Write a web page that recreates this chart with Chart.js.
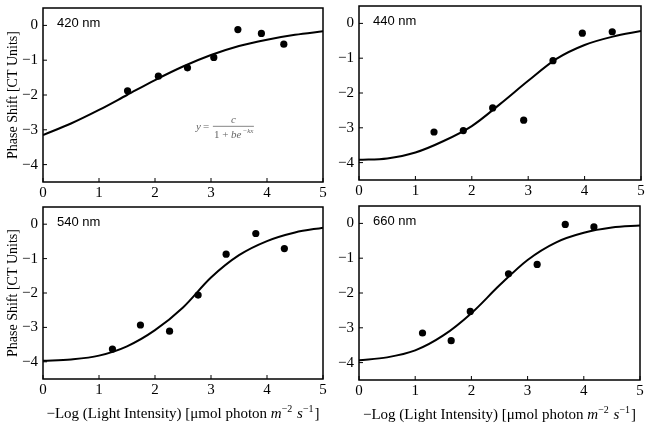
<!DOCTYPE html>
<html><head><meta charset="utf-8">
<script src="https://cdn.jsdelivr.net/npm/chart.js@4"></script>
<style>
html,body{margin:0;padding:0;background:#fff;}
#wrap{position:relative;width:649px;height:425px;overflow:hidden;background:#fff;}
canvas{position:absolute;}
</style></head><body><div id="wrap">
<canvas id="c1" width="335" height="205" style="left:0px;top:0px"></canvas>
<canvas id="c2" width="324" height="205" style="left:325px;top:0px"></canvas>
<canvas id="c3" width="335" height="225" style="left:0px;top:200px"></canvas>
<canvas id="c4" width="324" height="225" style="left:325px;top:200px"></canvas>
</div>
<script>
// ---- data ----
const xTicks = [0, 1, 2, 3, 4, 5];
const yTicks = [-4, -3, -2, -1, 0];
const curveX = [0, 0.5, 1, 1.5, 2, 2.5, 3, 3.5, 4, 4.5, 5];
const panelLabels = ['420 nm', '440 nm', '540 nm', '660 nm'];
const yTitle = 'Phase Shift [CT Units]';

const x420 = [1.51, 2.06, 2.58, 3.05, 3.48, 3.90, 4.30];
const y420 = [-1.88, -1.46, -1.22, -0.92, -0.12, -0.23, -0.54];
const fit420 = [-3.15, -2.82, -2.43, -2.00, -1.57, -1.18, -0.85, -0.59, -0.41, -0.27, -0.17];

const x440 = [1.33, 1.85, 2.37, 2.92, 3.44, 3.96, 4.49];
const y440 = [-3.12, -3.08, -2.43, -2.78, -1.07, -0.28, -0.24];
const fit440 = [-3.92, -3.88, -3.71, -3.38, -2.95, -2.32, -1.65, -1.02, -0.62, -0.38, -0.22];

const x540 = [1.24, 1.74, 2.26, 2.77, 3.27, 3.80, 4.31];
const y540 = [-3.63, -2.93, -3.11, -2.06, -0.87, -0.27, -0.71];
const fit540 = [-3.97, -3.93, -3.82, -3.55, -3.08, -2.42, -1.55, -0.90, -0.49, -0.24, -0.10];

const x660 = [1.13, 1.64, 1.98, 2.66, 3.17, 3.67, 4.18];
const y660 = [-3.15, -3.37, -2.53, -1.45, -1.18, -0.03, -0.10];
const fit660 = [-3.93, -3.85, -3.65, -3.22, -2.58, -1.78, -1.05, -0.55, -0.27, -0.12, -0.06];

const SERIF = '"Liberation Serif", "Times New Roman", serif';
const SANS = '"Liberation Sans", Arial, sans-serif';

function pts(xs, ys) { return xs.map((x, i) => ({x: x, y: ys[i]})); }

const panelPlugin = {
  id: 'panelDeco',
  afterDraw(chart, args, opts) {
    const ctx = chart.ctx;
    const a = chart.chartArea;
    const xs = chart.scales.x, ys = chart.scales.y;
    ctx.save();
    // frame
    ctx.strokeStyle = '#000';
    ctx.lineWidth = 1.5;
    ctx.strokeRect(a.left, a.top, a.right - a.left, a.bottom - a.top);
    // inward ticks
    ctx.lineWidth = 1;
    ctx.beginPath();
    xTicks.forEach(v => {
      const p = xs.getPixelForValue(v);
      ctx.moveTo(p, a.bottom); ctx.lineTo(p, a.bottom - 4);
    });
    yTicks.forEach(v => {
      const p = ys.getPixelForValue(v);
      ctx.moveTo(a.left, p); ctx.lineTo(a.left + 4, p);
    });
    ctx.stroke();
    // panel label
    ctx.fillStyle = '#000';
    ctx.font = '13px ' + SANS;
    ctx.textBaseline = 'middle';
    ctx.textAlign = 'left';
    ctx.fillText(opts.label, a.left + 14, a.top + 15);
    // equation
    if (opts.equation) {
      ctx.fillStyle = '#666';
      ctx.strokeStyle = '#666';
      ctx.textBaseline = 'alphabetic';
      const ex = xs.getPixelForValue(2.73);
      const ey = ys.getPixelForValue(-2.9);
      ctx.font = 'italic 11px ' + SERIF;
      ctx.fillText('y', ex, ey + 4);
      ctx.font = '11px ' + SERIF;
      ctx.fillText('=', ex + 7, ey + 4);
      const fl = ex + 17, fr = ex + 58;
      ctx.lineWidth = 0.8;
      ctx.beginPath(); ctx.moveTo(fl, ey); ctx.lineTo(fr, ey); ctx.stroke();
      ctx.font = 'italic 11px ' + SERIF;
      ctx.textAlign = 'center';
      ctx.fillText('c', (fl + fr) / 2, ey - 3);
      ctx.textAlign = 'left';
      ctx.font = '11px ' + SERIF;
      let dx = fl + 1;
      ctx.fillText('1 + ', dx, ey + 12); dx += ctx.measureText('1 + ').width;
      ctx.font = 'italic 11px ' + SERIF;
      ctx.fillText('be', dx, ey + 12); dx += ctx.measureText('be').width;
      ctx.font = 'italic 7px ' + SERIF;
      ctx.fillText('\u2212kx', dx + 1, ey + 7);
    }
    // x title
    if (opts.xtitle) {
      const pieces = [
        {t: '\u2212Log (Light Intensity) [\u03bcmol photon ', f: '15px ' + SERIF, dy: 0},
        {t: 'm', f: 'italic 15px ' + SERIF, dy: 0},
        {t: '\u22122', f: '10px ' + SERIF, dy: -6},
        {t: ' ', f: '15px ' + SERIF, dy: 0},
        {t: 's', f: 'italic 15px ' + SERIF, dy: 0},
        {t: '\u22121', f: '10px ' + SERIF, dy: -6},
        {t: ']', f: '15px ' + SERIF, dy: 0}
      ];
      let total = 0;
      pieces.forEach(p => { ctx.font = p.f; p.w = ctx.measureText(p.t).width + (p.dy ? 1 : 0); total += p.w; });
      let x = (a.left + a.right) / 2 - total / 2;
      const base = a.bottom + 39;
      ctx.fillStyle = '#000';
      ctx.textBaseline = 'alphabetic';
      ctx.textAlign = 'left';
      pieces.forEach(p => { ctx.font = p.f; ctx.fillText(p.t, x, base + p.dy); x += p.w; });
    }
    ctx.restore();
  }
};

function makeChart(id, label, xs, ys, fit, cfg) {
  const fitPts = curveX.map((x, i) => ({x: x, y: fit[i]}));
  return new Chart(document.getElementById(id), {
    type: 'scatter',
    data: {
      datasets: [
        {data: fitPts, showLine: true, borderColor: '#000', borderWidth: 2, pointRadius: 0,
         cubicInterpolationMode: 'monotone', fill: false, order: 2},
        {data: pts(xs, ys), pointRadius: 3.6, pointBackgroundColor: '#000', pointBorderColor: '#000',
         pointBorderWidth: 0, order: 1}
      ]
    },
    options: {
      responsive: false, animation: false, devicePixelRatio: 1,
      layout: {padding: {left: 0, top: cfg.top, right: cfg.right, bottom: 0}},
      plugins: {legend: {display: false}, tooltip: {enabled: false},
        panelDeco: {label: label, equation: !!cfg.equation, xtitle: !!cfg.xtitle}},
      scales: {
        x: {
          type: 'linear', min: 0, max: 5,
          grid: {display: false, drawTicks: false}, border: {display: false},
          afterBuildTicks: s => { s.ticks = xTicks.map(v => ({value: v})); },
          afterFit: s => { s.height = cfg.xh; s.paddingLeft = 0; s.paddingRight = 0; },
          ticks: {color: '#000', padding: 2, maxRotation: 0, font: {family: SERIF, size: 15},
                  callback: v => String(v)}
        },
        y: {
          type: 'linear', min: -4.5, max: 0.5,
          grid: {display: false, drawTicks: false}, border: {display: false},
          afterBuildTicks: s => { s.ticks = yTicks.map(v => ({value: v})); },
          afterFit: s => { s.width = cfg.yw; s.paddingTop = 0; s.paddingBottom = 0; },
          ticks: {color: '#000', padding: 5, font: {family: SERIF, size: 15},
                  callback: v => String(v).replace('-', '\u2212')},
          title: {display: !!cfg.ytitle, text: yTitle, color: '#000',
                  font: {family: SERIF, size: 14, lineHeight: 1.2}, padding: {top: 5, bottom: 0}}
        }
      }
    },
    plugins: [panelPlugin]
  });
}

makeChart('c1', panelLabels[0], x420, y420, fit420, {top: 8, right: 12, xh: 23, yw: 43, ytitle: true, equation: true});
makeChart('c2', panelLabels[1], x440, y440, fit440, {top: 6, right: 8, xh: 25, yw: 34});
makeChart('c3', panelLabels[2], x540, y540, fit540, {top: 7, right: 12, xh: 46, yw: 43, ytitle: true, xtitle: true});
makeChart('c4', panelLabels[3], x660, y660, fit660, {top: 6, right: 9, xh: 45, yw: 34, xtitle: true});
</script>
</body></html>
